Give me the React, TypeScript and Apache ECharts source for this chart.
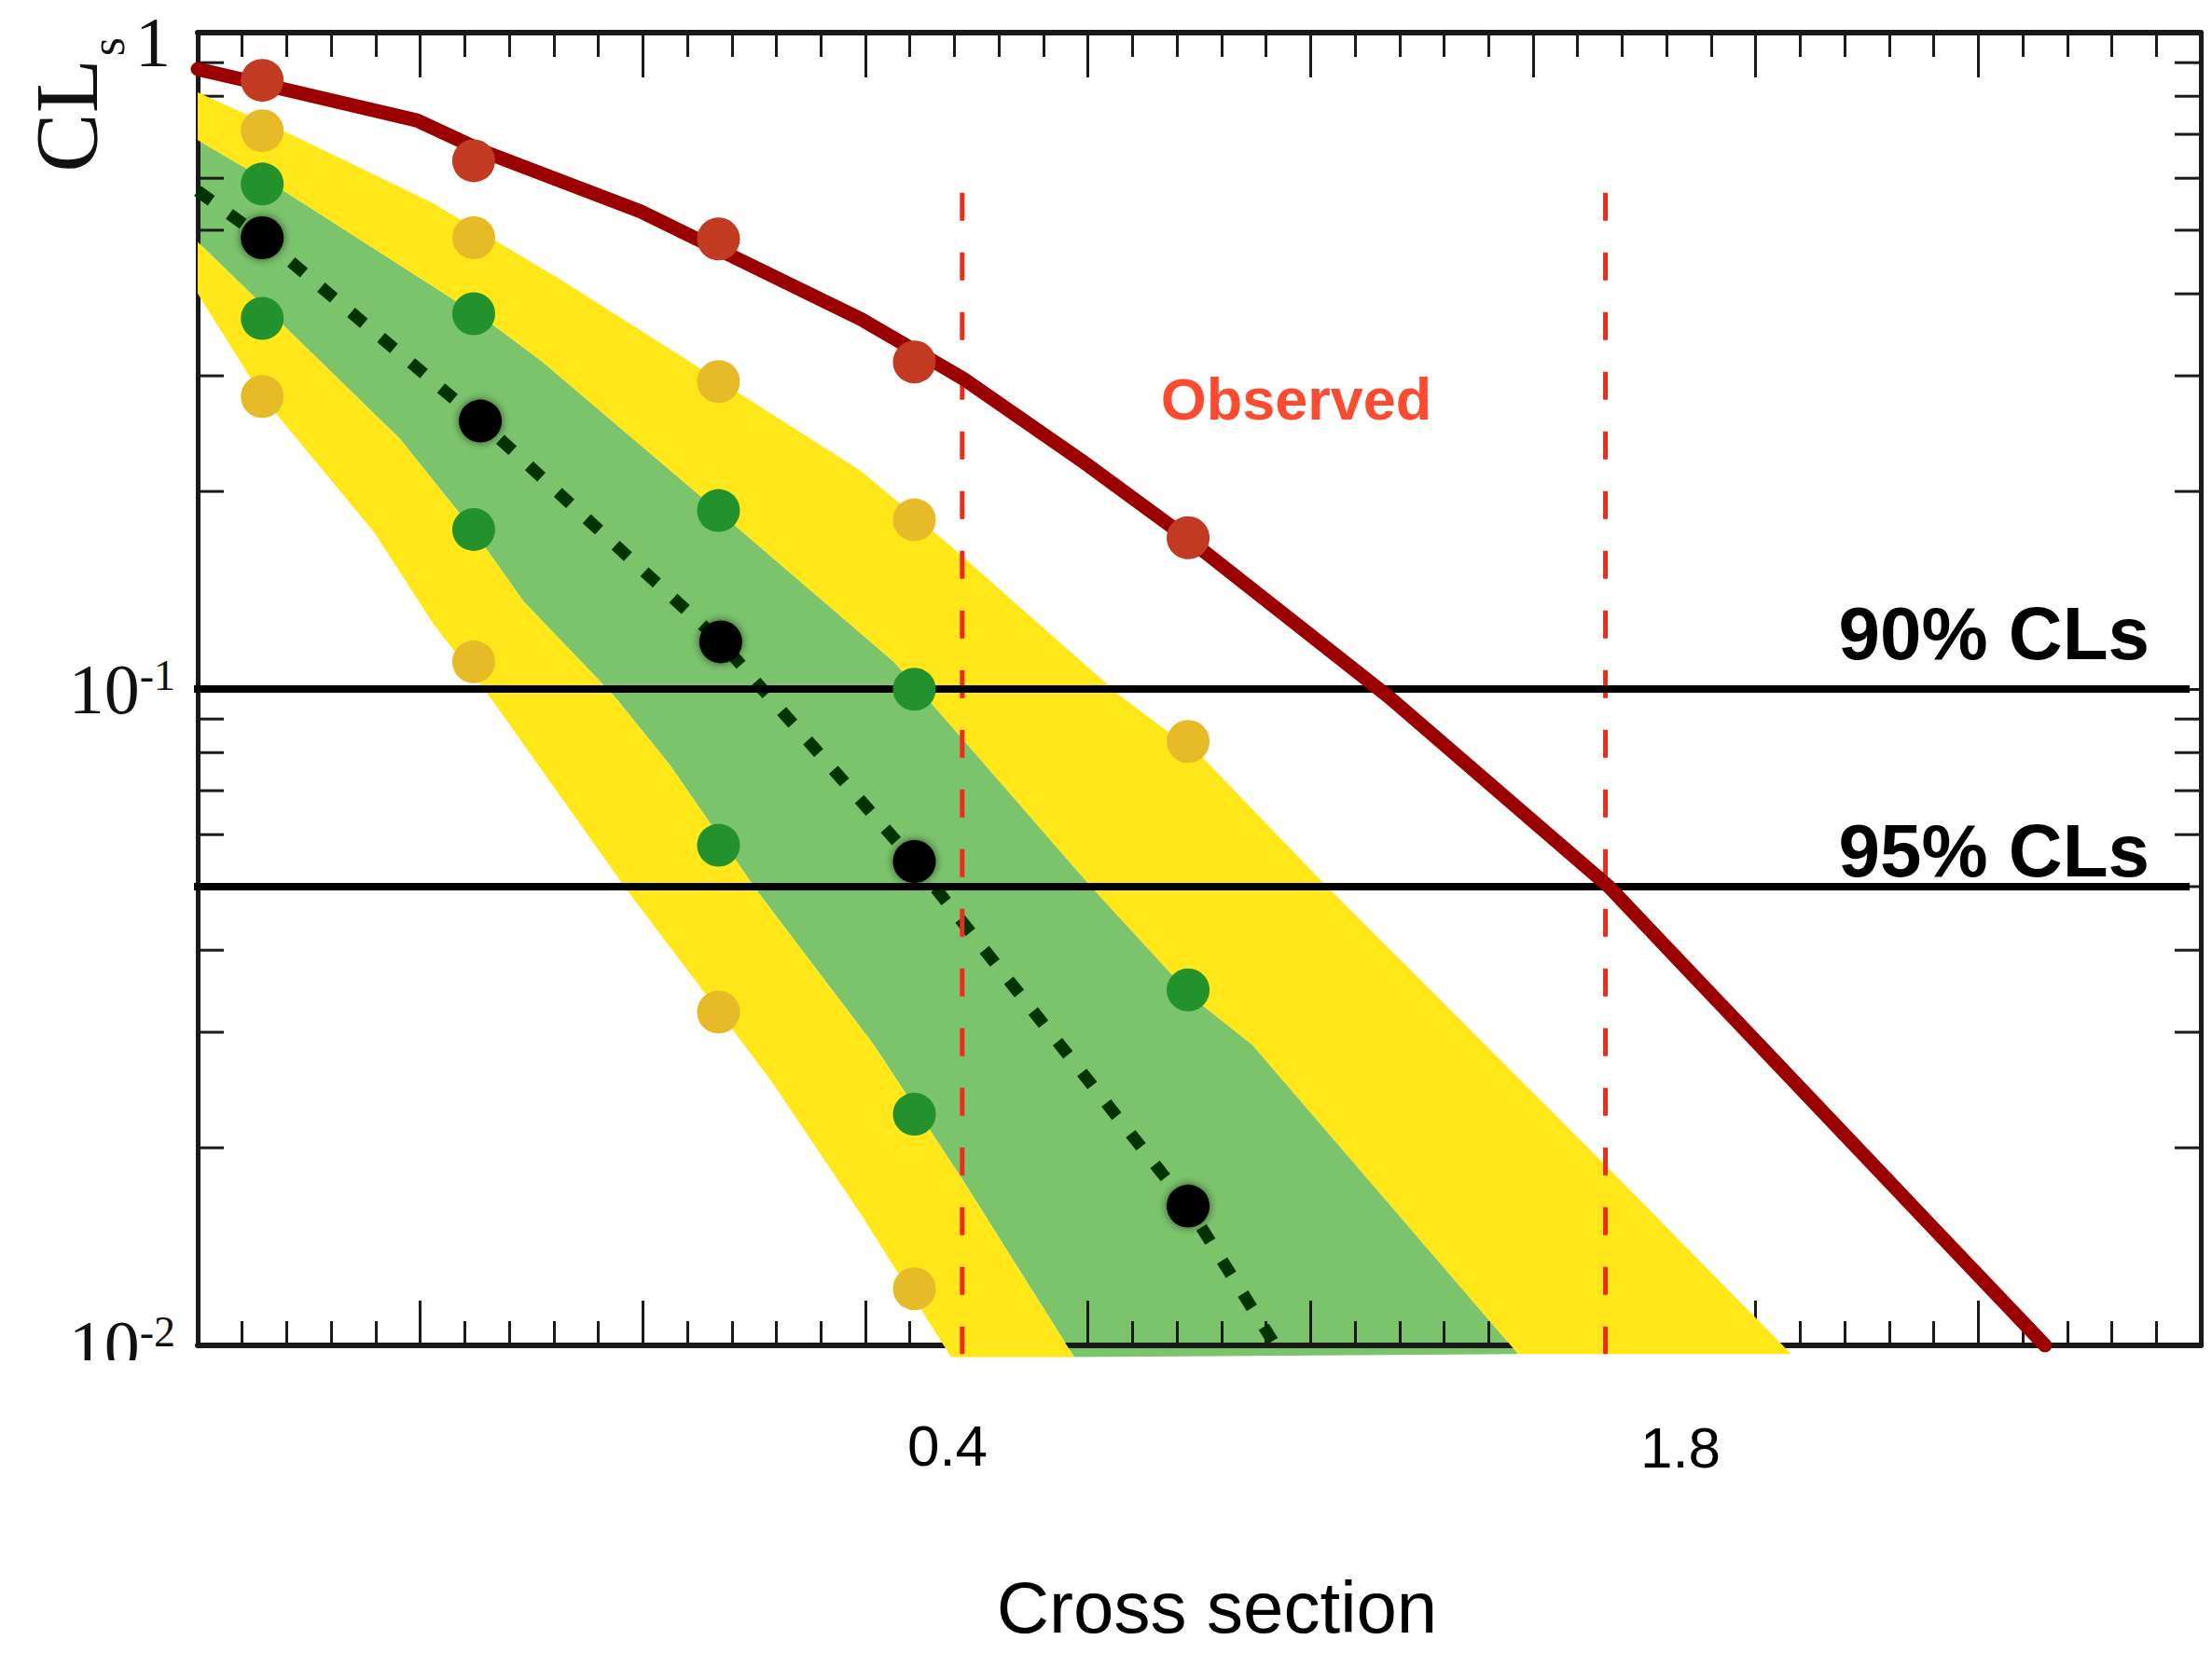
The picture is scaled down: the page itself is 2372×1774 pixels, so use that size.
import React, { useEffect, useRef } from "react";
import * as echarts from "echarts";

// ---------- data (x in arbitrary cross-section units, y = CLs) ----------
const xMin = 0;
const xMax = 9;
const yMin = 0.01;
const yMax = 1;

const xCols = [0.29, 1.24, 2.34, 3.22, 4.45];
const medianX = [0.29, 1.27, 2.35, 3.22, 4.45];
const observedPoints = [0.846, 0.638, 0.485, 0.315, 0.17];
const upper2Points = [0.709, 0.487, 0.294, 0.181, 0.0832];
const upper1Points = [0.588, 0.373, 0.187, 0.0999, 0.0348];
const medianPoints = [0.487, 0.256, 0.118, 0.0546, 0.0163];
const lower1Points = [0.367, 0.175, 0.0578, 0.0225];
const lower2Points = [0.279, 0.11, 0.0322, 0.0122];

const observedCurve = [
  [0, 0.88], [0.985, 0.735], [1.29, 0.658], [1.99, 0.534], [2.98, 0.366],
  [3.44, 0.297], [3.97, 0.223], [4.44, 0.1704], [5.35, 0.0974], [6.34, 0.05],
  [7.73, 0.01596], [8.3, 0.01],
];
const medianCurve = [
  [0, 0.574], [0.29, 0.487], [1.27, 0.256], [2.35, 0.118], [3.22, 0.0546],
  [4.45, 0.0163], [4.85, 0.0099],
];

// band edges
const yellowUpperEdge = [
  [0, 0.811], [0.444, 0.693], [1.056, 0.55], [1.638, 0.419], [2.979, 0.215],
  [3.385, 0.165], [4.144, 0.0977], [4.517, 0.0785], [5.057, 0.0507],
  [6.343, 0.01856], [7.16, 0.0097],
];
const greenUpperEdge = [
  [0, 0.686], [0.356, 0.583], [1.32, 0.36], [1.55, 0.315], [2.455, 0.1727],
  [3.126, 0.1101], [3.27, 0.0974], [4.014, 0.05], [4.475, 0.0338],
  [4.739, 0.0287], [5.933, 0.0097],
];
const greenLowerEdge = [
  [0, 0.48], [0.909, 0.2404], [1.232, 0.1755], [1.464, 0.136], [1.873, 0.0974],
  [2.12, 0.0767], [2.514, 0.0492], [3.038, 0.0287], [3.444, 0.01772],
  [3.938, 0.0096],
];
const yellowLowerEdge = [
  [0, 0.4006], [0.289, 0.279], [0.796, 0.1727], [1.056, 0.126], [1.32, 0.0965],
  [1.932, 0.0492], [2.573, 0.0254], [2.979, 0.01586], [3.385, 0.0096],
];

const limitX = [3.435, 6.325];
const limitTop = 0.57;
const limitBottom = 0.0097;
const clLevels = [0.1, 0.05];
const clLabels = ["90% CLs", "95% CLs"];
const clSpan = [-0.017, 8.95];
const yMinorTicks = [0.02, 0.03, 0.04, 0.05, 0.06, 0.07, 0.08, 0.09, 0.2, 0.3, 0.4, 0.5, 0.6, 0.7, 0.8, 0.9];
const xTickLabels = ["0.4", "1.8"];

// ---------- styles ----------
const AX = "#1a1a1a";
const SERIF = '"Liberation Serif", "Times New Roman", serif';
const SANS = '"Liberation Sans", Arial, Helvetica, sans-serif';
const YELLOW = "#ffe71a";
const GREEN = "#7bc46c";

function polygonSeries(upper: number[][], lower: number[][], color: string, z: number) {
  return {
    type: "custom",
    z,
    silent: true,
    clip: false,
    data: [[upper[0][0], upper[0][1]]],
    renderItem: (_params: any, api: any) => {
      const pts = [
        ...upper.map((p) => api.coord(p)),
        ...lower.slice().reverse().map((p) => api.coord(p)),
      ];
      return { type: "polygon", shape: { points: pts }, style: { fill: color } };
    },
  };
}

function scatter(xs: number[], ys: number[], color: string, extra: any = {}) {
  return {
    type: "scatter",
    z: 8,
    symbol: "circle",
    symbolSize: 46,
    silent: true,
    data: ys.map((y, i) => [xs[i], y]),
    itemStyle: { color, opacity: 1, ...extra },
  };
}

const xAxisCommon = {
  type: "value",
  min: xMin,
  max: xMax,
  interval: 1,
  axisLine: { show: true, onZero: false, lineStyle: { color: AX, width: 6 } },
  axisTick: { show: true, inside: true, length: 48, lineStyle: { color: AX, width: 3 } },
  minorTick: { show: true, splitNumber: 5, length: 26, lineStyle: { color: AX, width: 3 } },
  axisLabel: { show: false },
  splitLine: { show: false },
  minorSplitLine: { show: false },
};

const yAxisCommon = {
  type: "log",
  logBase: 10,
  min: yMin,
  max: yMax,
  axisLine: { show: true, onZero: false, lineStyle: { color: AX, width: 5 } },
  axisTick: { show: true, inside: true, length: 48, lineStyle: { color: AX, width: 3 } },
  splitLine: { show: false },
};

export default function App() {
  const ref = useRef<HTMLDivElement>(null);
  useEffect(() => {
    if (!ref.current) return;
    const chart = echarts.init(ref.current, undefined, { renderer: "svg" });
    const option: any = {
      animation: false,
      backgroundColor: "#ffffff",
      grid: { left: 212, top: 35, right: 12, bottom: 331, containLabel: false },
      xAxis: [
        { ...xAxisCommon, position: "bottom" },
        { ...xAxisCommon, position: "top" },
      ],
      yAxis: [
        {
          ...yAxisCommon,
          position: "left",
          axisLabel: {
            show: true,
            margin: 24,
            color: "#111",
            formatter: (v: number) => {
              const e = Math.round(Math.log10(v));
              if (e === 0) return "{t|1}";
              return "{m|10}{e|" + e + "}";
            },
            rich: {
              t: { fontFamily: SERIF, fontSize: 76, color: "#111", padding: [20, 5, 0, 0] },
              m: { fontFamily: SERIF, fontSize: 76, color: "#111", verticalAlign: "bottom" },
              e: { fontFamily: SERIF, fontSize: 46, color: "#111", verticalAlign: "top" },
            },
          },
        },
        { ...yAxisCommon, position: "right", axisLabel: { show: false } },
      ],
      graphic: [
        {
          type: "text", x: 72, y: 124, rotation: Math.PI / 2, z: 100,
          style: { text: "CL", fontFamily: SERIF, fontSize: 95, fill: "#111", align: "center", verticalAlign: "middle" },
        },
        {
          type: "text", x: 115, y: 50, rotation: Math.PI / 2, z: 100,
          style: { text: "s", fontFamily: SERIF, fontSize: 52, fill: "#111", align: "center", verticalAlign: "middle" },
        },
        {
          type: "rect", z: 100, silent: true,
          shape: { x: 40, y: 1459, width: 168, height: 60 },
          style: { fill: "#ffffff" },
        },
        {
          type: "text", x: 1390, y: 428, z: 100,
          style: { text: "Observed", fontFamily: SANS, fontWeight: "bold", fontSize: 63, fill: "#fb4b30", align: "center", verticalAlign: "middle" },
        },
        {
          type: "text", x: 2305, y: 679, z: 100,
          style: { text: clLabels[0], fontFamily: SANS, fontWeight: "bold", fontSize: 80, fill: "#000", align: "right", verticalAlign: "middle" },
        },
        {
          type: "text", x: 2305, y: 912, z: 100,
          style: { text: clLabels[1], fontFamily: SANS, fontWeight: "bold", fontSize: 80, fill: "#000", align: "right", verticalAlign: "middle" },
        },
        {
          type: "text", x: 1016, y: 1550, z: 100,
          style: { text: xTickLabels[0], fontFamily: SANS, fontSize: 62, fill: "#000", align: "center", verticalAlign: "middle" },
        },
        {
          type: "text", x: 1802, y: 1552, z: 100,
          style: { text: xTickLabels[1], fontFamily: SANS, fontSize: 62, fill: "#000", align: "center", verticalAlign: "middle" },
        },
        {
          type: "text", x: 1305, y: 1724, z: 100,
          style: { text: "Cross section", fontFamily: SANS, fontSize: 78, fill: "#000", align: "center", verticalAlign: "middle" },
        },
      ],
      series: [
        polygonSeries(greenUpperEdge, greenLowerEdge, GREEN, -1),
        {
          type: "custom",
          z: 1,
          silent: true,
          data: yMinorTicks.map((v) => [xMin, v]),
          renderItem: (_p: any, api: any) => {
            const v = api.value(1);
            const a = api.coord([xMin, v]);
            const b = api.coord([xMax, v]);
            const st = { stroke: AX, lineWidth: 3 };
            return {
              type: "group",
              children: [
                { type: "line", shape: { x1: a[0], y1: a[1], x2: a[0] + 28, y2: a[1] }, style: st },
                { type: "line", shape: { x1: b[0] - 28, y1: b[1], x2: b[0], y2: b[1] }, style: st },
              ],
            };
          },
        },
        polygonSeries(yellowUpperEdge, greenUpperEdge, YELLOW, 3),
        polygonSeries(greenLowerEdge, yellowLowerEdge, YELLOW, 3),
        {
          type: "line",
          z: 4,
          silent: true,
          clip: false,
          symbol: "none",
          data: medianCurve,
          lineStyle: { color: "#003300", width: 13, type: [18, 24], cap: "butt" },
        },
        ...limitX.map((x) => ({
          type: "line",
          z: 5,
          silent: true,
          clip: false,
          symbol: "none",
          data: [[x, limitTop], [x, limitBottom]],
          lineStyle: { color: "#ee2a1c", width: 5, type: [30, 34] },
        })),
        ...clLevels.map((lv) => ({
          type: "line",
          z: 6,
          silent: true,
          clip: false,
          symbol: "none",
          data: [[clSpan[0], lv], [clSpan[1], lv]],
          lineStyle: { color: "#000", width: 8 },
        })),
        {
          type: "line",
          z: 7,
          silent: true,
          clip: false,
          symbol: "none",
          data: observedCurve,
          lineStyle: { color: "#9b0000", width: 15, cap: "round", join: "round" },
        },
        scatter(xCols, upper2Points, "#e7bb27"),
        scatter(xCols, lower2Points, "#e7bb27"),
        scatter(xCols, upper1Points, "#24922c"),
        scatter(xCols, lower1Points, "#24922c"),
        scatter(xCols, observedPoints, "#c23a22"),
        scatter(medianX, medianPoints, "#000000", { shadowBlur: 10, shadowColor: "rgba(0,0,0,0.6)" }),
      ],
    };
    chart.setOption(option);
    return () => chart.dispose();
  }, []);
  return (
    <div
      ref={ref}
      style={{ position: "fixed", left: 0, top: 0, width: 2372, height: 1774, background: "#fff" }}
    />
  );
}
